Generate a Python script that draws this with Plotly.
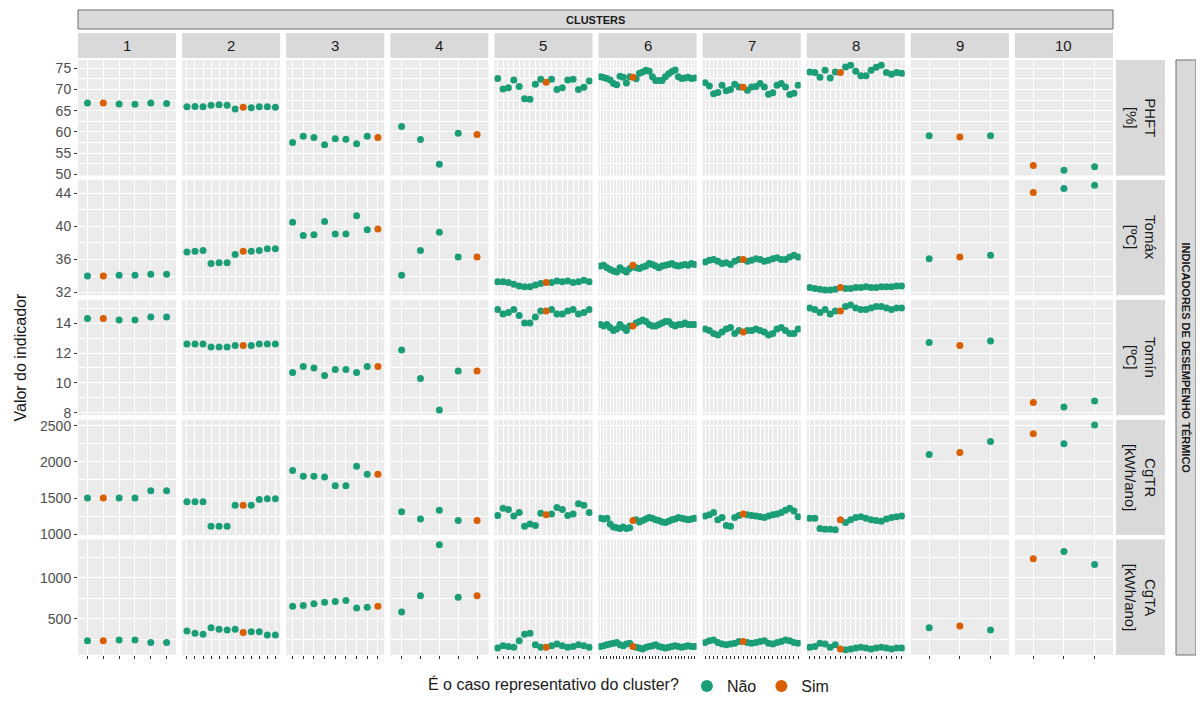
import plotly.graph_objects as go
from plotly.subplots import make_subplots

# ---------------- data ----------------
clusters = ["1", "2", "3", "4", "5", "6", "7", "8", "9", "10"]
rep_case = [2, 8, 9, 5, 10, 11, 10, 7, 2, 1]   # 1-based position of representative case
indicators = ["PHFT<br>[%]", "Tomáx<br>[ºC]", "Tomín<br>[ºC]", "CgTR<br>[kWh/ano]", "CgTA<br>[kWh/ano]"]

phft = [
    [66.8, 66.8, 66.6, 66.5, 66.8, 66.7],
    [65.9, 66.0, 65.9, 66.3, 66.4, 66.3, 65.4, 65.8, 65.7, 65.9, 65.9, 65.8],
    [57.5, 59.0, 58.7, 57.0, 58.4, 58.3, 57.2, 59.0, 58.7],
    [61.3, 58.2, 52.4, 59.7, 59.4],
    [72.6, 70.1, 70.4, 72.2, 70.7, 67.8, 67.7, 71.2, 72.4, 71.7, 72.4, 70.0, 70.4, 72.2, 72.4, 70.0, 70.5, 72.0],
    [73.0, 72.8, 72.6, 72.2, 71.4, 71.1, 73.1, 72.9, 71.5, 73.0, 72.9, 72.5, 73.8, 74.1, 74.5,
     74.3, 73.0, 72.1, 72.1, 72.1, 73.0, 73.7, 74.2, 74.6, 73.0, 72.6, 72.7, 72.9, 72.6, 72.7],
    [71.6, 70.8, 69.0, 69.3, 71.0, 69.7, 70.0, 71.2, 70.6, 70.5, 69.8, 70.6, 70.7, 71.4, 70.6,
     68.9, 69.2, 71.0, 71.4, 70.6, 68.8, 69.1, 71.0],
    [74.1, 74.0, 72.9, 74.5, 72.7, 74.1, 74.0, 75.3, 75.7, 74.3, 73.2, 73.2, 74.5, 75.2, 75.7,
     74.0, 73.6, 74.0, 73.8],
    [59.1, 58.8, 59.1],
    [52.1, 51.0, 51.8],
]

tomax = [
    [34.0, 34.0, 34.1, 34.1, 34.2, 34.2],
    [36.9, 37.0, 37.1, 35.5, 35.6, 35.6, 36.6, 37.0, 37.0, 37.1, 37.3, 37.3],
    [40.5, 38.9, 39.0, 40.6, 39.1, 39.1, 41.3, 39.6, 39.7],
    [34.1, 37.1, 39.3, 36.3, 36.3],
    [33.3, 33.3, 33.2, 33.0, 32.8, 32.7, 32.7, 32.9, 33.1, 33.2, 33.2, 33.4, 33.3, 33.4, 33.2, 33.3, 33.5, 33.3],
    [35.2, 35.3, 35.0, 34.8, 34.6, 34.5, 35.0, 34.7, 34.5, 34.9, 35.3, 35.0, 34.9, 35.1, 35.2,
     35.5, 35.4, 35.2, 35.0, 35.2, 35.3, 35.4, 35.5, 35.3, 35.2, 35.3, 35.4, 35.3, 35.5, 35.4],
    [35.7, 35.9, 36.0, 35.8, 35.5, 35.6, 35.4, 35.8, 36.0, 36.0, 35.8, 35.9, 36.1, 36.0, 35.8,
     35.9, 36.1, 36.2, 36.0, 36.0, 36.3, 36.5, 36.3],
    [32.6, 32.5, 32.4, 32.3, 32.3, 32.4, 32.6, 32.5, 32.5, 32.6, 32.6, 32.7, 32.6, 32.6, 32.7,
     32.7, 32.7, 32.8, 32.8],
    [36.1, 36.3, 36.5],
    [44.1, 44.6, 45.0],
]

tomin = [
    [14.3, 14.3, 14.2, 14.2, 14.4, 14.4],
    [12.6, 12.6, 12.6, 12.4, 12.4, 12.4, 12.5, 12.5, 12.5, 12.6, 12.6, 12.6],
    [10.7, 11.1, 11.0, 10.5, 10.9, 10.9, 10.7, 11.1, 11.1],
    [12.2, 10.3, 8.2, 10.8, 10.8],
    [14.9, 14.6, 14.7, 14.9, 14.5, 14.0, 14.0, 14.4, 14.8, 14.8, 14.9, 14.6, 14.6, 14.8, 14.9, 14.6, 14.7, 14.9],
    [13.9, 13.8, 13.9, 13.7, 13.5, 13.6, 13.9, 13.7, 13.5, 13.8, 13.8, 14.0, 14.1, 14.2, 14.1,
     13.9, 13.8, 13.8, 13.9, 14.0, 14.1, 14.1, 13.9, 13.8, 13.9, 13.9, 14.0, 13.9, 13.9, 13.9],
    [13.6, 13.5, 13.3, 13.2, 13.4, 13.6, 13.7, 13.3, 13.5, 13.4, 13.5, 13.5, 13.6, 13.5, 13.4,
     13.2, 13.3, 13.6, 13.7, 13.5, 13.3, 13.3, 13.6],
    [15.0, 14.9, 14.7, 14.9, 14.6, 14.8, 14.8, 15.1, 15.2, 15.0, 14.9, 14.9, 15.0, 15.1, 15.1,
     15.0, 14.9, 15.0, 15.0],
    [12.7, 12.5, 12.8],
    [8.7, 8.4, 8.8],
]

cgtr = [
    [1500, 1500, 1500, 1500, 1600, 1600],
    [1450, 1450, 1450, 1110, 1110, 1110, 1400, 1400, 1400, 1480, 1490, 1490],
    [1880, 1800, 1800, 1790, 1670, 1670, 1940, 1830, 1830],
    [1310, 1210, 1330, 1190, 1190],
    [1260, 1360, 1340, 1250, 1300, 1110, 1140, 1120, 1290, 1270, 1280, 1370, 1340, 1260, 1280, 1420, 1400, 1300],
    [1220, 1210, 1220, 1140, 1100, 1090, 1080, 1100, 1080, 1090, 1190, 1200, 1170, 1190, 1210,
     1230, 1220, 1200, 1190, 1170, 1160, 1180, 1200, 1210, 1230, 1220, 1210, 1200, 1210, 1220],
    [1250, 1270, 1300, 1200, 1230, 1120, 1110, 1230, 1260, 1280, 1270, 1260, 1250, 1240, 1230,
     1250, 1270, 1280, 1300, 1330, 1360, 1320, 1240],
    [1220, 1220, 1080, 1070, 1070, 1060, 1200, 1160, 1200, 1230, 1240, 1220, 1200, 1190, 1180,
     1210, 1230, 1240, 1250],
    [2100, 2130, 2280],
    [2390, 2250, 2510],
]

cgta = [
    [230, 230, 240, 240, 210, 210],
    [350, 320, 310, 390, 370, 360, 370, 330, 340, 340, 300, 300],
    [650, 660, 680, 700, 710, 720, 630, 640, 650],
    [580, 780, 1400, 760, 780],
    [140, 170, 160, 150, 230, 310, 320, 180, 150, 150, 170, 190, 170, 150, 160, 180, 170, 150],
    [160, 170, 180, 190, 200, 210, 180, 170, 190, 200, 160, 150, 140, 130, 150, 160, 170, 180,
     160, 150, 140, 150, 160, 170, 160, 150, 160, 170, 160, 160],
    [210, 230, 240, 210, 190, 180, 190, 200, 220, 220, 210, 200, 210, 220, 230, 200, 190, 210,
     220, 240, 230, 210, 200],
    [150, 160, 200, 190, 150, 180, 130, 120, 130, 140, 150, 140, 130, 140, 150, 140, 130, 140, 140],
    [390, 410, 360],
    [1230, 1320, 1160],
]

y_major = [[50, 55, 60, 65, 70, 75], [32, 36, 40, 44], [8, 10, 12, 14],
           [1000, 1500, 2000, 2500], [500, 1000]]
y_minor = [[47.5, 52.5, 57.5, 62.5, 67.5, 72.5, 77.5], [30, 34, 38, 42, 46], [9, 11, 13, 15],
           [750, 1250, 1750, 2250, 2750], [250, 750, 1250]]

legend_title = "É o caso representativo do cluster?"
legend_labels = ["Não", "Sim"]
top_title = "CLUSTERS"
right_title = "INDICADORES DE DESEMPENHO TÉRMICO"
y_title = "Valor do indicador"

# ---------------- figure ----------------
# page body has an 8px margin, so the figure is 16px smaller than the window
OFF = 8
W, H = 1204 - 2 * OFF, 704 - 2 * OFF
X0, X1, Y0, Y1 = 78, 1113, 60, 655          # plot area in window pixels
ML, MT = X0 - OFF, Y0 - OFF
PW, PH = X1 - X0, Y1 - Y0
MR, MB = W - ML - PW, H - MT - PH

GREEN, ORANGE = "#1B9E77", "#D95F02"
FONT = "Liberation Sans, Arial, sans-serif"

rows_data = [phft, tomax, tomin, cgtr, cgta]
nr, nc = len(rows_data), len(clusters)

fig = make_subplots(rows=nr, cols=nc, horizontal_spacing=6 / PW, vertical_spacing=4.5 / PH)

for r, data in enumerate(rows_data):
    allv = [v for cl in data for v in cl]
    lo, hi = min(allv), max(allv)
    pad = 0.05 * (hi - lo)
    yr = [lo - pad, hi + pad]
    for c in range(nc):
        vals = data[c]
        n = len(vals)
        xs = list(range(1, n + 1))
        rep = rep_case[c]
        xn = [x for x in xs if x != rep]
        yn = [v for x, v in zip(xs, vals) if x != rep]
        fig.add_trace(go.Scatter(x=xn, y=yn, mode="markers",
                                 marker=dict(color=GREEN, size=7),
                                 name=legend_labels[0], legendgroup="nao",
                                 showlegend=(r == 0 and c == 0), hoverinfo="skip"),
                      row=r + 1, col=c + 1)
        fig.add_trace(go.Scatter(x=[rep], y=[vals[rep - 1]], mode="markers",
                                 marker=dict(color=ORANGE, size=7),
                                 name=legend_labels[1], legendgroup="sim",
                                 showlegend=(r == 0 and c == 0), hoverinfo="skip"),
                      row=r + 1, col=c + 1)
        fig.update_xaxes(range=[0.4, n + 0.6], tickmode="array", tickvals=xs,
                         showticklabels=False, showgrid=True, gridcolor="white", gridwidth=1,
                         zeroline=False, showline=False,
                         ticks="outside" if r == nr - 1 else "", ticklen=3,
                         tickcolor="#333333", tickwidth=1,
                         row=r + 1, col=c + 1)
        fig.update_yaxes(range=yr, tickmode="array", tickvals=y_major[r],
                         showticklabels=(c == 0), showgrid=True, gridcolor="white", gridwidth=1,
                         minor=dict(tickmode="array", tickvals=y_minor[r], showgrid=True,
                                    gridcolor="white", gridwidth=0.5, ticks=""),
                         zeroline=False, showline=False,
                         ticks="outside" if c == 0 else "", ticklen=3,
                         tickcolor="#333333", tickwidth=1,
                         tickfont=dict(size=14, color="#4D4D4D", family=FONT),
                         row=r + 1, col=c + 1)

shapes = []
annotations = []

def px2x(px):
    return (px - X0) / PW

def py2y(py):
    return 1 - (py - Y0) / PH

def ann(text, x, y, size, angle=0):
    return dict(text=text, xref="paper", yref="paper", x=x, y=y, showarrow=False,
                xanchor="center", yanchor="middle", textangle=angle,
                font=dict(size=size, color="#1A1A1A", family=FONT))

# column strips
for c in range(nc):
    dom = fig.layout["xaxis" + ("" if c == 0 else str(c + 1))].domain
    shapes.append(dict(type="rect", xref="paper", yref="paper", x0=dom[0], x1=dom[1],
                       y0=py2y(58), y1=py2y(33), fillcolor="#D9D9D9", line=dict(width=0),
                       layer="below"))
    annotations.append(ann(clusters[c], (dom[0] + dom[1]) / 2, py2y(45.5), 15))

# row strips
for r in range(nr):
    dom = fig.layout["yaxis" + ("" if r == 0 else str(r * nc + 1))].domain
    shapes.append(dict(type="rect", xref="paper", yref="paper", x0=px2x(1116), x1=px2x(1165),
                       y0=dom[0], y1=dom[1], fillcolor="#D9D9D9", line=dict(width=0),
                       layer="below"))
    annotations.append(ann(indicators[r], px2x(1140.5), (dom[0] + dom[1]) / 2, 15, 90))

# outer strips
shapes.append(dict(type="rect", xref="paper", yref="paper", x0=0, x1=1,
                   y0=py2y(29), y1=py2y(10), fillcolor="#D9D9D9",
                   line=dict(width=1, color="#6E6E6E")))
annotations.append(ann("<b>" + top_title + "</b>", 0.5, py2y(19.5), 11))
shapes.append(dict(type="rect", xref="paper", yref="paper", x0=px2x(1176), x1=px2x(1196),
                   y0=0, y1=1, fillcolor="#D9D9D9",
                   line=dict(width=1, color="#6E6E6E")))
annotations.append(ann("<b>" + right_title + "</b>", px2x(1186), 0.5, 11, 90))

# y title
annotations.append(ann(y_title, px2x(20), 0.5, 16, -90))

fig.update_layout(
    width=W, height=H,
    margin=dict(l=ML, r=MR, t=MT, b=MB, pad=0, autoexpand=False),
    paper_bgcolor="white", plot_bgcolor="#EBEBEB",
    font=dict(family=FONT, color="#1A1A1A"),
    shapes=shapes, annotations=annotations,
    showlegend=True,
    legend=dict(orientation="h", x=px2x(630), xanchor="center", y=py2y(686), yanchor="middle",
                title=dict(text=legend_title, font=dict(size=16, color="#1A1A1A")),
                font=dict(size=16, color="#1A1A1A"), itemsizing="constant",
                tracegroupgap=0, bgcolor="rgba(0,0,0,0)"),
)

fig.write_html("out.html")
